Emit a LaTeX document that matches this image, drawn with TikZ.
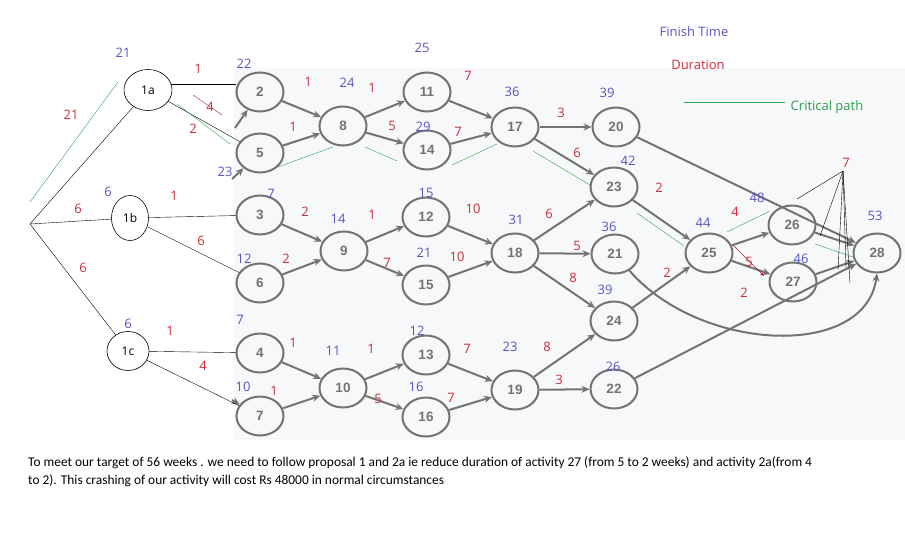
\documentclass[tikz,border=0pt]{standalone}
\usepackage{fontspec}
\setmainfont{Open Sans}
\newfontfamily\scanfont{Liberation Sans}
\newfontfamily\notefont{Carlito}
\usetikzlibrary{arrows.meta, shapes.geometric}

\definecolor{ftblue}{RGB}{85,85,195}
\definecolor{durred}{RGB}{205,45,55}
\definecolor{critgreen}{RGB}{45,160,75}
\definecolor{scangray}{RGB}{115,115,115}
\definecolor{scanbg}{RGB}{247,248,250}

\begin{document}
\begin{tikzpicture}[
    x=1pt, y=-1pt,
    act/.style={ellipse, draw=scangray, line width=2pt, minimum width=47pt, minimum height=39pt,
      inner sep=0pt, fill=scanbg, text=scangray, font=\scanfont\bfseries\fontsize{13.5}{13.5}\selectfont},
    prop/.style={ellipse, draw, semithick, inner sep=0pt, fill=white, font=\fontsize{12}{12}\selectfont},
    flow/.style={draw=scangray, line width=2pt, -{Stealth[length=8pt, width=7pt]}},
    ft/.style={text=ftblue, font=\fontsize{13}{13}\selectfont},
    dur/.style={text=durred, font=\fontsize{13}{13}\selectfont},
    crit/.style={critgreen, thin},
    note/.style={anchor=west, inner sep=0pt, font=\notefont\fontsize{13.4}{13.4}\selectfont}
  ]

  % --- PAGE AND SCAN ---
  \useasboundingbox (0,0) rectangle (905,538);
  \fill[scanbg] (234,68) rectangle (905,440);

  % --- ACTIVITIES FROM THE SCAN ---
  \node[act] (n2)  at (260,92)  {2};
  \node[act] (n5)  at (260,153) {5};
  \node[act] (n3)  at (260,215) {3};
  \node[act] (n6)  at (260,283) {6};
  \node[act] (n4)  at (260,353) {4};
  \node[act] (n7)  at (260,416) {7};
  \node[act] (n8)  at (343,126) {8};
  \node[act] (n9)  at (344,251) {9};
  \node[act] (n10) at (343,388) {10};
  \node[act] (n11) at (427,92)  {11};
  \node[act] (n14) at (427,150) {14};
  \node[act] (n12) at (426,217) {12};
  \node[act] (n15) at (426,285) {15};
  \node[act] (n13) at (426,355) {13};
  \node[act] (n16) at (426,417) {16};
  \node[act] (n17) at (515,127) {17};
  \node[act] (n18) at (515,253) {18};
  \node[act] (n19) at (515,390) {19};
  \node[act] (n20) at (616,127) {20};
  \node[act] (n23) at (614,187) {23};
  \node[act] (n21) at (615,254) {21};
  \node[act] (n24) at (614,321) {24};
  \node[act] (n22) at (614,389) {22};
  \node[act] (n25) at (709,253) {25};
  \node[act] (n26) at (792,225) {26};
  \node[act] (n27) at (793,282) {27};
  \node[act] (n28) at (877,253) {28};

  % --- ADDED FIRST ACTIVITIES ---
  \coordinate (start) at (30,224);
  \node[prop, minimum width=48pt, minimum height=41pt] (n1a) at (148,90)  {1a};
  \node[prop, minimum width=37pt, minimum height=45pt] (n1b) at (130,218) {1b};
  \node[prop, minimum width=42pt, minimum height=39pt] (n1c) at (128,351) {1c};

  % --- SCAN ARROWS ---
  \coordinate (in2) at (235,128);
  \coordinate (in5) at (232,179);
  \coordinate (in7) at (232,400);
  \draw[flow] (in2) -- (n2);
  \draw[flow] (in5) -- (n5);
  \draw[flow] (in7) -- (n7);
  \draw[flow] (n2) -- (n8);
  \draw[flow] (n5) -- (n8);
  \draw[flow] (n8) -- (n11);
  \draw[flow] (n8) -- (n14);
  \draw[flow] (n11) -- (n17);
  \draw[flow] (n14) -- (n17);
  \draw[flow] (n17) -- (n20);
  \draw[flow] (n17) -- (n23);
  \draw[flow] (n3) -- (n9);
  \draw[flow] (n6) -- (n9);
  \draw[flow] (n9) -- (n12);
  \draw[flow] (n9) -- (n15);
  \draw[flow] (n12) -- (n18);
  \draw[flow] (n15) -- (n18);
  \draw[flow] (n18) -- (n23);
  \draw[flow] (n18) -- (n21);
  \draw[flow] (n18) -- (n24);
  \draw[flow] (n4) -- (n10);
  \draw[flow] (n7) -- (n10);
  \draw[flow] (n10) -- (n13);
  \draw[flow] (n10) -- (n16);
  \draw[flow] (n13) -- (n19);
  \draw[flow] (n16) -- (n19);
  \draw[flow] (n19) -- (n24);
  \draw[flow] (n19) -- (n22);
  \draw[flow] (n23) -- (n25);
  \draw[flow] (n24) -- (n25);
  \draw[flow] (n25) -- (n26);
  \draw[flow] (n25) -- (n27);
  \draw[flow] (n20) -- (n28);
  \draw[flow] (n26) -- (n28);
  \draw[flow] (n27) -- (n28);
  \draw[flow] (n22) -- (n28);
  % 21 runs below 25 and 27 into the foot of 28
  \draw[flow] (n21) .. controls (700,352) and (865,360) .. (n28.south);

  % --- HAND-DRAWN LINKS ---
  \draw (start) -- (n1a);
  \draw (start) -- (n1b);
  \draw (start) -- (n1c);
  \draw (n1a.14) -- (n2.west |- n1a.14);
  \draw (n1a) -- (n5);
  \draw (n1b) -- (n3);
  \draw (n1b) -- (n6);
  \draw (n1c) -- (n4);
  \draw (n1c) -- (n7);

  % crossed-out durations
  \draw[durred!80!black, thin] (193,95) -- (222,115);
  \draw[durred!80!black, thin, -{Stealth[length=4pt, width=3pt]}] (733,245) -- (764,276);

  % lines from the shared duration 7
  \coordinate (apex) at (843,171);
  \draw (apex) -- (797,199);
  \draw (apex) -- (820,236);
  \draw (apex) -- (838,270);
  \draw (apex) -- (850,283);
  \draw (apex) -- (846,268);

  % --- CRITICAL PATH ---
  \draw[crit] (30,202) -- (118,82);
  \draw[crit] (177,104) -- (230,144);
  \draw[crit] (278,167) -- (333,147);
  \draw[crit] (365,147) -- (397,161);
  \draw[crit] (452,165) -- (497,144);
  \draw[crit] (533,151) -- (590,185);
  \draw[crit] (637,213) -- (684,246);
  \draw[crit] (727,232) -- (770,211);
  \draw[crit] (815,244) -- (853,257);

  % --- FINISH TIMES ---
  \node[ft] (t1a) at (123,53)  {21};
  \node[ft] (t1b) at (108,192) {6};
  \node[ft] (t1c) at (128,324) {6};
  \node[ft] (t2)  at (244,64)  {22};
  \node[ft] (t5)  at (225,172) {23};
  \node[ft] (t3)  at (271,194) {7};
  \node[ft] (t6)  at (244,259) {12};
  \node[ft] (t4)  at (240,320) {7};
  \node[ft] (t7)  at (243,387) {10};
  \node[ft] (t8)  at (347,83)  {24};
  \node[ft] (t9)  at (338,219) {14};
  \node[ft] (t10) at (333,351) {11};
  \node[ft] (t11) at (422,48)  {25};
  \node[ft] (t14) at (423,127) {29};
  \node[ft] (t12) at (426,193) {15};
  \node[ft] (t15) at (424,253) {21};
  \node[ft] (t13) at (417,331) {12};
  \node[ft] (t16) at (416,387) {16};
  \node[ft] (t17) at (512,92)  {36};
  \node[ft] (t18) at (516,220) {31};
  \node[ft] (t19) at (510,347) {23};
  \node[ft] (t20) at (607,93)  {39};
  \node[ft] (t23) at (628,161) {42};
  \node[ft] (t21) at (609,227) {36};
  \node[ft] (t24) at (605,290) {39};
  \node[ft] (t22) at (613,367) {26};
  \node[ft] (t25) at (703,223) {44};
  \node[ft] (t26) at (757,198) {48};
  \node[ft] (t27) at (801,259) {46};
  \node[ft] (t28) at (875,216) {53};

  % --- DURATIONS ---
  \node[dur] (dstart1a) at (71,115)  {21};
  \node[dur] (dstart1b) at (78,209)  {6};
  \node[dur] (dstart1c) at (83,268)  {6};
  \node[dur] (d1a2)  at (198,69)  {1};
  \node[dur] (d1a5x) at (210,107) {4};
  \node[dur] (d1a5)  at (193,129) {2};
  \node[dur] (d1b3)  at (174,196) {1};
  \node[dur] (d1b6)  at (201,241) {6};
  \node[dur] (d1c4)  at (170,331) {1};
  \node[dur] (d1c7)  at (203,366) {4};
  \node[dur] (d28)   at (308,82)  {1};
  \node[dur] (d58)   at (293,127) {1};
  \node[dur] (d39)   at (305,212) {2};
  \node[dur] (d69)   at (286,259) {2};
  \node[dur] (d410)  at (293,343) {1};
  \node[dur] (d710)  at (274,391) {1};
  \node[dur] (d811)  at (372,88)  {1};
  \node[dur] (d814)  at (392,126) {5};
  \node[dur] (d912)  at (372,215) {1};
  \node[dur] (d915)  at (387,263) {7};
  \node[dur] (d1013) at (371,349) {1};
  \node[dur] (d1016) at (378,399) {5};
  \node[dur] (d1117) at (468,76)  {7};
  \node[dur] (d1417) at (458,132) {7};
  \node[dur] (d1218) at (473,209) {10};
  \node[dur] (d1518) at (457,257) {10};
  \node[dur] (d1319) at (467,349) {7};
  \node[dur] (d1619) at (451,398) {7};
  \node[dur] (d1720) at (561,113) {3};
  \node[dur] (d1723) at (577,153) {6};
  \node[dur] (d1823) at (549,214) {6};
  \node[dur] (d1821) at (577,246) {5};
  \node[dur] (d1824) at (573,278) {8};
  \node[dur] (d1924) at (547,347) {8};
  \node[dur] (d1922) at (559,380) {3};
  \node[dur] (d2325) at (659,188) {2};
  \node[dur] (d2425) at (667,273) {2};
  \node[dur] (d2526) at (735,212) {4};
  \node[dur] (d2527x) at (749,262) {5};
  \node[dur] (d2527) at (744,293) {2};
  \node[dur] (d28end) at (846,163) {7};

  % --- LEGEND ---
  \node[ft] (legft) at (694,32) {Finish Time};
  \node[dur] (legdur) at (698,65) {Duration};
  \coordinate (legfrom) at (684,102);
  \coordinate (legto) at (785,102);
  \draw[crit] (legfrom) -- (legto);
  \node[text=critgreen, font=\fontsize{13}{13}\selectfont] (legcrit) at (827,107) {Critical path};

  % --- CONCLUSION ---
  \node[note] (note1) at (28,463) {To meet our target of 56 weeks . we need to follow proposal 1 and 2a ie reduce duration of activity 27 (from 5 to 2 weeks) and activity 2a(from 4};
  \node[note] (note2) at (28,481) {to 2). This crashing of our activity will cost Rs 48000 in normal circumstances};

\end{tikzpicture}
\end{document}
